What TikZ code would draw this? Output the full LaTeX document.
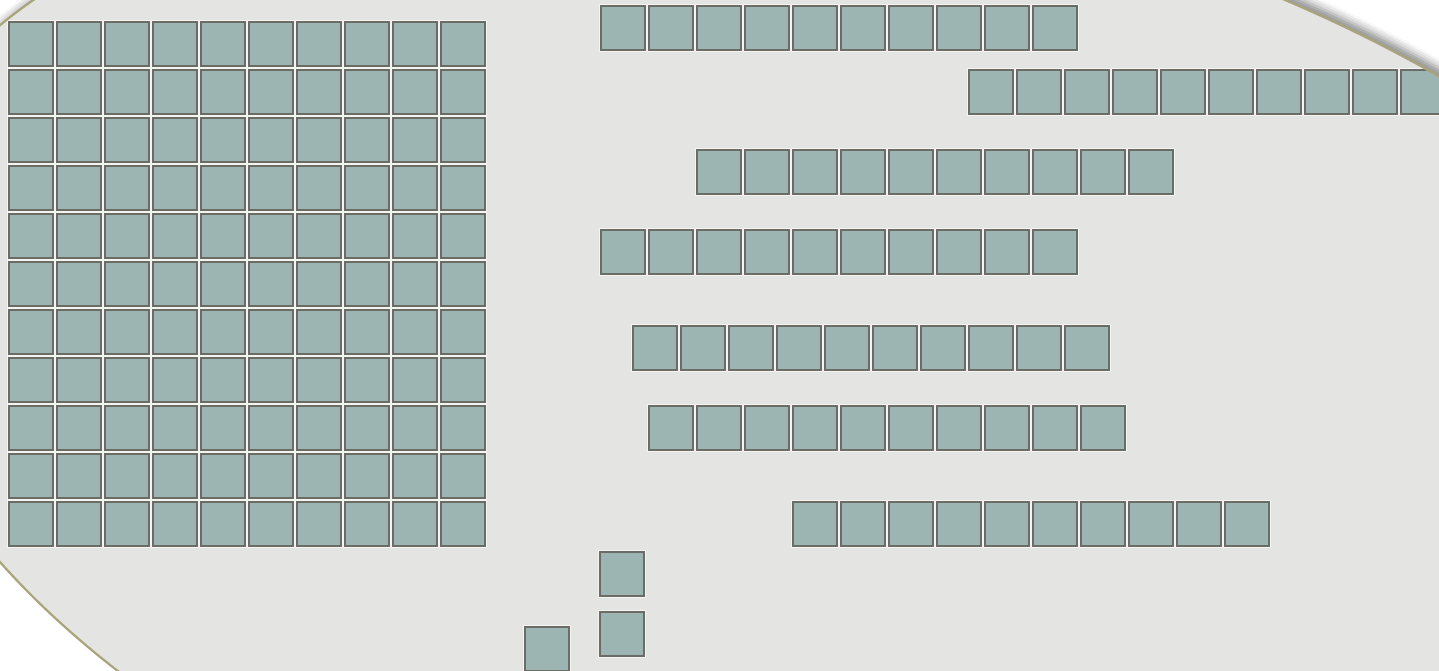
\documentclass[tikz,border=0pt]{standalone}
\usetikzlibrary{shadows.blur}
\definecolor{bgfill}{HTML}{E4E4E2}
\definecolor{rimcol}{HTML}{A8A47C}
\definecolor{cellfill}{HTML}{9DB5B2}
\definecolor{celldraw}{HTML}{6C6C66}
\definecolor{halo}{HTML}{F4F4F2}
\tikzset{
  cell/.style={draw=celldraw, fill=cellfill, line width=1pt, inner sep=0pt,
    minimum size=22pt, outer sep=0pt,
    preaction={draw=halo, line width=2pt}},
  rim/.style={draw=rimcol, line width=1.1pt},
  eshape/.style={shift={(848,420)}, rotate=-12.0},
}
\begin{document}
\begin{tikzpicture}[x=0.5pt, y=-0.5pt]
  \path[use as bounding box] (0,0) rectangle (1439,670);
  \clip (0,0) rectangle (1439,670);
  % backdrop ellipse with shadow
  \fill[bgfill, blur shadow={shadow xshift=3pt, shadow yshift=2.5pt, shadow blur radius=4pt, shadow opacity=45}]
    [eshape] (0,0) ellipse [x radius=991, y radius=534];
  \begin{scope}
    \clip[eshape] (0,0) ellipse [x radius=991, y radius=534];
    % left grid 11 x 10
    \foreach \r in {0,...,10}{
      \foreach \c in {0,...,9}{
        \node[cell] (g-\r-\c) at ({31+48*\c},{44+48*\r}) {};
      }
    }
    % right rows: centre x of first cell, centre y
    \foreach \sx/\sy [count=\k] in {623/28, 991/92, 719/172, 623/252, 655/348, 671/428, 815/524}{
      \foreach \c in {0,...,9}{
        \node[cell] (r\k-\c) at ({\sx+48*\c},\sy) {};
      }
    }
    % single cells
    \node[cell] (s1) at (622,574) {};
    \node[cell] (s2) at (622,634) {};
    \node[cell] (s3) at (547,649) {};
  \end{scope}
  % rim of the ellipse
  \draw[rim, eshape] (0,0) ellipse [x radius=991, y radius=534];
\end{tikzpicture}
\end{document}
